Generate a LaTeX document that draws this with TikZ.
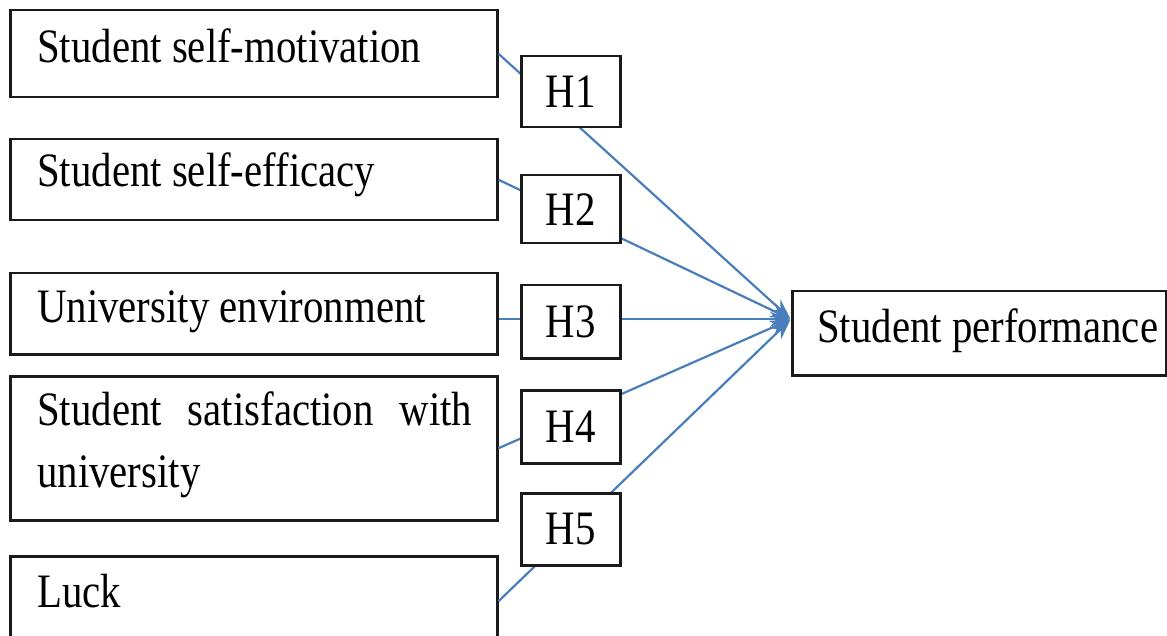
\documentclass[tikz,border=0pt]{standalone}
\usepackage{fontspec}
\setmainfont{Liberation Serif}[FakeStretch=0.85]
\usetikzlibrary{arrows.meta}
\definecolor{conncol}{HTML}{4A7EBB}
\definecolor{boxcol}{HTML}{1A1A1A}
\newcommand\bigtext{\fontsize{48}{62}\selectfont}
\begin{document}
\begin{tikzpicture}[x=1pt,y=-1pt,
  box/.style={draw=boxcol, line width=2.5pt, fill=white, inner sep=0pt, anchor=north west},
  hbox/.style={box, font=\bigtext, minimum width=99pt},
  lbl/.style={font=\bigtext, inner sep=0pt, anchor=base west},
  conn/.style={draw=conncol, line width=2.2pt, shorten >=1pt, -{Stealth[length=20pt,width=15pt]}}]
\useasboundingbox (0,0) rectangle (1167,636);
% left boxes
\node[box, minimum width=487pt, minimum height=87pt] (b1) at (9,9) {};
\node[box, minimum width=487pt, minimum height=81pt] (b2) at (9,138) {};
\node[box, minimum width=487pt, minimum height=81pt] (b3) at (9,272) {};
\node[box, minimum width=487pt, minimum height=144pt] (b4) at (9,375) {};
\node[box, minimum width=487pt, minimum height=90pt] (b5) at (9,555) {};
% target
\node[box, minimum width=374pt, minimum height=84pt] (t) at (791,290) {};
\coordinate (tip) at ([yshift=14pt]t.west);
% labels
\node[lbl] (l1) at (37,63) {Student self-motivation};
\node[lbl] (l2) at (37,187) {Student self-efficacy};
\node[lbl] (l3) at (37,323) {University environment};
\node[font=\bigtext, inner sep=0pt, anchor=north west, text width=435pt, align=left] (l4) at (37,392)
  {\makebox[435pt][l]{Student\hfill satisfaction\hfill with}\\university};
\node[lbl] (l5) at (37,607) {Luck};
\node[lbl] (lt) at (817,342) {Student performance};
% connectors
\draw[conn] (b1.east) -- (tip);
\draw[conn] (b2.east) -- (tip);
\draw[conn] (b3.east |- tip) -- (tip);
\draw[conn] (b4.east) -- (tip);
\draw[conn] (b5.east) -- (tip);
% hypothesis boxes
\node[hbox, minimum height=71pt] (h1) at (520,55) {H1};
\node[hbox, minimum height=68pt] (h2) at (520,174) {H2};
\node[hbox, minimum height=73pt] (h3) at (520,284) {H3};
\node[hbox, minimum height=73pt] (h4) at (520,389) {H4};
\node[hbox, minimum height=72pt] (h5) at (520,492) {H5};
\end{tikzpicture}
\end{document}
